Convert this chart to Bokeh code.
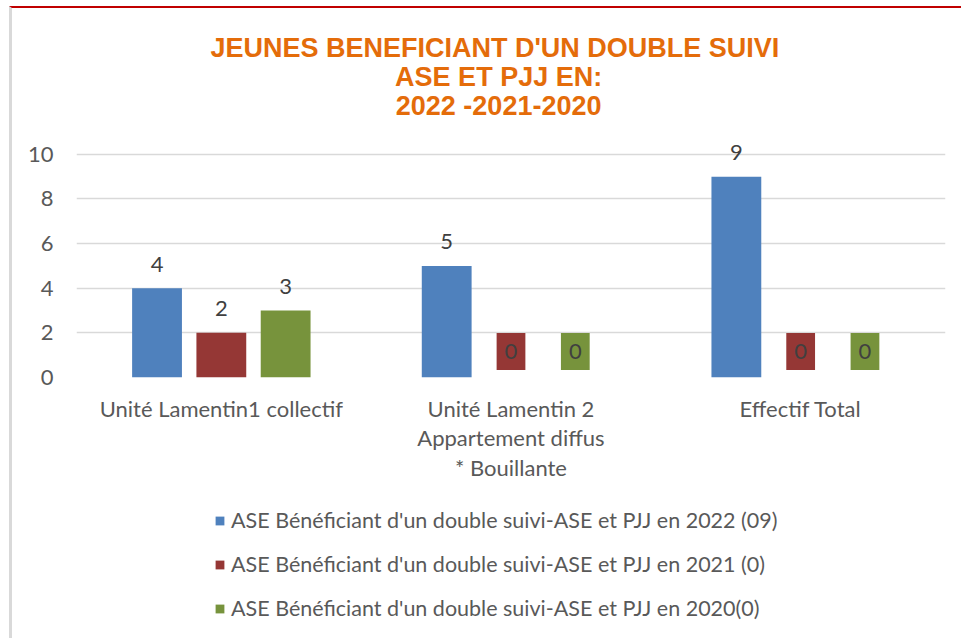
from bokeh.plotting import figure
from bokeh.layouts import column
from bokeh.models import (FactorRange, Range1d, ColumnDataSource, Legend,
                          LegendItem, FixedTicker)
from bokeh.transform import dodge
from bokeh.core.properties import value
from bokeh.embed import file_html
from bokeh.resources import INLINE

# ---- data ----
categories = ["Unité Lamentin1 collectif",
              "Unité Lamentin 2\nAppartement diffus\n* Bouillante",
              "Effectif Total"]
series_2022 = [4, 5, 9]
series_2021 = [2, 0, 0]
series_2020 = [3, 0, 0]
series_names = ["ASE Bénéficiant d'un double suivi-ASE et PJJ en 2022 (09)",
                "ASE Bénéficiant d'un double suivi-ASE et PJJ en 2021 (0)",
                "ASE Bénéficiant d'un double suivi-ASE et PJJ en 2020(0)"]
series_colors = ["#4F81BD", "#953735", "#77933C"]
title_lines = ["JEUNES BENEFICIANT  D'UN DOUBLE SUIVI", "ASE ET PJJ EN:", "2022 -2021-2020"]
y_ticks = [0, 2, 4, 6, 8, 10]

FONT = "Lato"
TXT = "#595959"
FS = "22px"
W = 949

common = dict(output_backend="svg", toolbar_location=None, outline_line_color=None,
              background_fill_color="white", border_fill_color="white")

# ---- title panel ----
TH, T_TOP, T_PITCH = 128, 39, 29
tf = figure(width=W, height=TH, x_range=Range1d(0, W),
            y_range=Range1d((TH - T_TOP) / T_PITCH, -T_TOP / T_PITCH),
            min_border=0, **common)
tf.axis.visible = False
tf.grid.visible = False
tf.text(x=461, y=list(range(len(title_lines))), text=title_lines,
        text_align="center", text_baseline="middle",
        text_font=value("Liberation Sans"), text_font_style="bold",
        text_font_size="27px", text_color="#E46C0A")

# ---- chart ----
p = figure(width=W, height=351, title=None,
           x_range=FactorRange(factors=categories, range_padding=0),
           y_range=Range1d(0, 10.8),
           min_border_left=64, min_border_right=16, min_border_top=0, min_border_bottom=110,
           **common)

series = [series_2022, series_2021, series_2020]
offsets = [-0.222, 0.0, 0.222]
for vals, col, off in zip(series, series_colors, offsets):
    src = ColumnDataSource(dict(cat=categories, top=vals))
    p.vbar(x=dodge("cat", off, range=p.x_range), top="top", width=0.172,
           source=src, fill_color=col, line_color=None)
    nz = ColumnDataSource(dict(cat=[c for c, v in zip(categories, vals) if v != 0],
                               y=[v for v in vals if v != 0],
                               lbl=[str(v) for v in vals if v != 0]))
    p.text(x=dodge("cat", off, range=p.x_range), y="y", text="lbl", source=nz,
           text_align="center", text_baseline="middle", y_offset=-24,
           text_font=value(FONT), text_font_size=FS, text_color="#404040")
    zs = ColumnDataSource(dict(cat=[c for c, v in zip(categories, vals) if v == 0],
                               y=[v for v in vals if v == 0],
                               lbl=[str(v) for v in vals if v == 0]))
    p.text(x=dodge("cat", off, range=p.x_range), y="y", text="lbl", source=zs,
           text_align="center", text_baseline="middle", y_offset=-26,
           text_font=value(FONT), text_font_size=FS, text_color="#404040",
           background_fill_color=col, padding=(8, 11))

p.xgrid.grid_line_color = None
p.ygrid.grid_line_color = "#D9D9D9"
p.ygrid.grid_line_width = 1.5
p.yaxis.ticker = FixedTicker(ticks=y_ticks)
for ax in (p.xaxis, p.yaxis):
    ax.axis_line_color = None
    ax.major_tick_line_color = None
    ax.minor_tick_line_color = None
    ax.major_label_text_font = FONT
    ax.major_label_text_font_size = FS
    ax.major_label_text_color = TXT
p.yaxis.major_label_standoff = 17
p.xaxis.major_label_standoff = 11
p.xaxis.major_label_text_line_height = 1.11

# ---- legend panel ----
lg = figure(width=W, height=151, x_range=FactorRange(factors=categories),
            y_range=Range1d(-20, -10),
            min_border_left=64, min_border_right=16, min_border_top=0, min_border_bottom=0,
            **common)
lg.axis.visible = False
lg.grid.visible = False
items = []
for vals, col, name in zip(series, series_colors, series_names):
    src = ColumnDataSource(dict(cat=categories, top=vals))
    r = lg.vbar(x="cat", top="top", width=0, source=src, fill_color=col, line_color=None)
    items.append(LegendItem(label=name, renderers=[r]))
legend = Legend(items=items, orientation="vertical", location=(138, 17),
                label_text_font=FONT, label_text_font_size="21.5px", label_text_color=TXT,
                glyph_width=11, glyph_height=11, label_standoff=6, spacing=18,
                border_line_color=None, background_fill_alpha=0, padding=0, margin=0)
lg.add_layout(legend)

layout = column(tf, p, lg, spacing=0, margin=(6, 0, 0, 9),
                styles={"border-top": "2px solid #C00000",
                        "border-left": "3px solid #D9D9D9"})
open("out.html", "w").write(file_html(layout, INLINE))
